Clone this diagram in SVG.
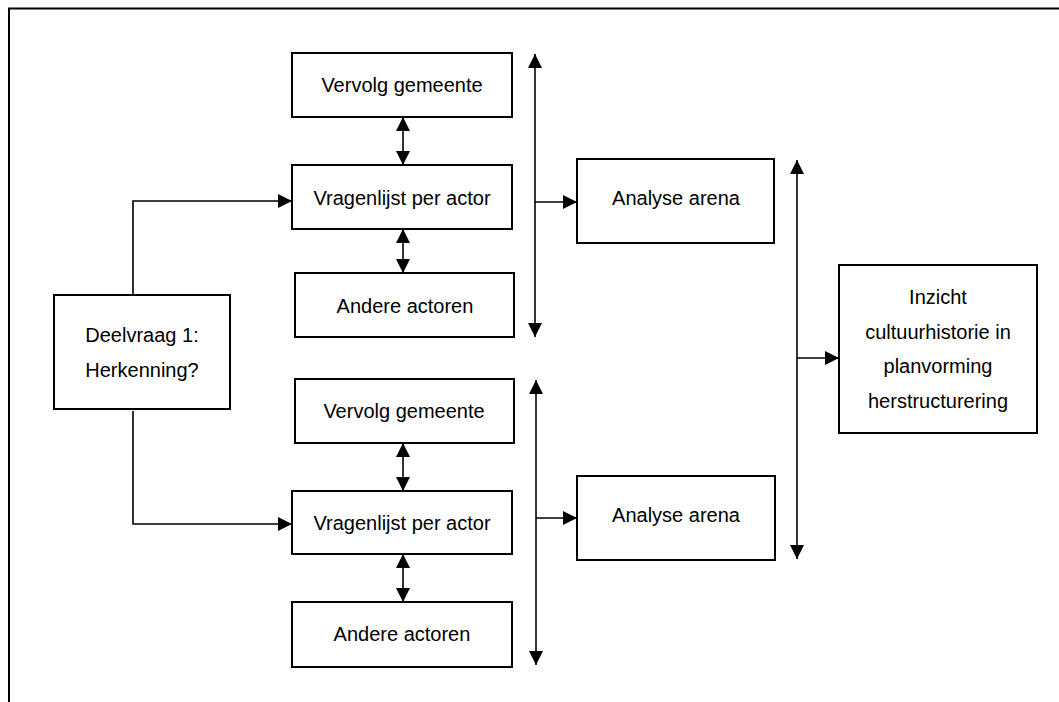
<svg xmlns="http://www.w3.org/2000/svg" width="1059" height="702" viewBox="0 0 1059 702">
<style>
.box{fill:#fff;stroke:#000;stroke-width:2}
.t{font-family:"Liberation Sans",Arial,sans-serif;font-size:20px;fill:#000;text-anchor:middle}
.c{fill:none;stroke:#000;stroke-width:1.6}
.frame{fill:none;stroke:#000;stroke-width:2}
</style>
<defs>
<marker id="ah" viewBox="0 0 14 14" refX="14" refY="7" markerWidth="14" markerHeight="14" markerUnits="userSpaceOnUse" orient="auto-start-reverse">
<path d="M0,0 L14,7 L0,14 z" fill="#000"/>
</marker>
</defs>
<path class="frame" d="M9,702 V8.5 H1059"/>
<g id="connectors">
<polyline class="c" points="133,295 133,201 292,201" marker-end="url(#ah)"/>
<polyline class="c" points="133,411 133,524 292,524" marker-end="url(#ah)"/>
<line class="c" x1="403" y1="117" x2="403" y2="165" marker-start="url(#ah)" marker-end="url(#ah)"/>
<line class="c" x1="403" y1="229" x2="403" y2="273" marker-start="url(#ah)" marker-end="url(#ah)"/>
<line class="c" x1="535" y1="54" x2="535" y2="337" marker-start="url(#ah)" marker-end="url(#ah)"/>
<line class="c" x1="535" y1="202" x2="577" y2="202" marker-end="url(#ah)"/>
<line class="c" x1="403" y1="443" x2="403" y2="491" marker-start="url(#ah)" marker-end="url(#ah)"/>
<line class="c" x1="403" y1="554" x2="403" y2="602" marker-start="url(#ah)" marker-end="url(#ah)"/>
<line class="c" x1="536" y1="380" x2="536" y2="665" marker-start="url(#ah)" marker-end="url(#ah)"/>
<line class="c" x1="536" y1="518" x2="577" y2="518" marker-end="url(#ah)"/>
<line class="c" x1="797" y1="160" x2="797" y2="559" marker-start="url(#ah)" marker-end="url(#ah)"/>
<line class="c" x1="797" y1="358" x2="839" y2="358" marker-end="url(#ah)"/>
</g>
<g id="deelvraag">
<rect class="box" x="54" y="295" width="176" height="114"/>
<text class="t" x="142" y="342">Deelvraag 1:</text>
<text class="t" x="142" y="377">Herkenning?</text>
</g>
<g id="vervolg1">
<rect class="box" x="292" y="53" width="220" height="64"/>
<text class="t" x="402" y="92">Vervolg gemeente</text>
</g>
<g id="vragenlijst1">
<rect class="box" x="292" y="165" width="220" height="64"/>
<text class="t" x="402" y="205">Vragenlijst per actor</text>
</g>
<g id="andere1">
<rect class="box" x="295" y="273" width="219" height="64"/>
<text class="t" x="405" y="313">Andere actoren</text>
</g>
<g id="analyse1">
<rect class="box" x="577" y="159" width="197" height="84"/>
<text class="t" x="676" y="205">Analyse arena</text>
</g>
<g id="vervolg2">
<rect class="box" x="295" y="379" width="219" height="64"/>
<text class="t" x="404" y="418">Vervolg gemeente</text>
</g>
<g id="vragenlijst2">
<rect class="box" x="292" y="491" width="220" height="63"/>
<text class="t" x="402" y="530">Vragenlijst per actor</text>
</g>
<g id="andere2">
<rect class="box" x="292" y="602" width="220" height="65"/>
<text class="t" x="402" y="641">Andere actoren</text>
</g>
<g id="analyse2">
<rect class="box" x="577" y="476" width="198" height="84"/>
<text class="t" x="676" y="522">Analyse arena</text>
</g>
<g id="inzicht">
<rect class="box" x="839" y="265" width="198" height="168"/>
<text class="t" x="938" y="304">Inzicht</text>
<text class="t" x="938" y="339">cultuurhistorie in</text>
<text class="t" x="938" y="373">planvorming</text>
<text class="t" x="938" y="408">herstructurering</text>
</g>
</svg>
